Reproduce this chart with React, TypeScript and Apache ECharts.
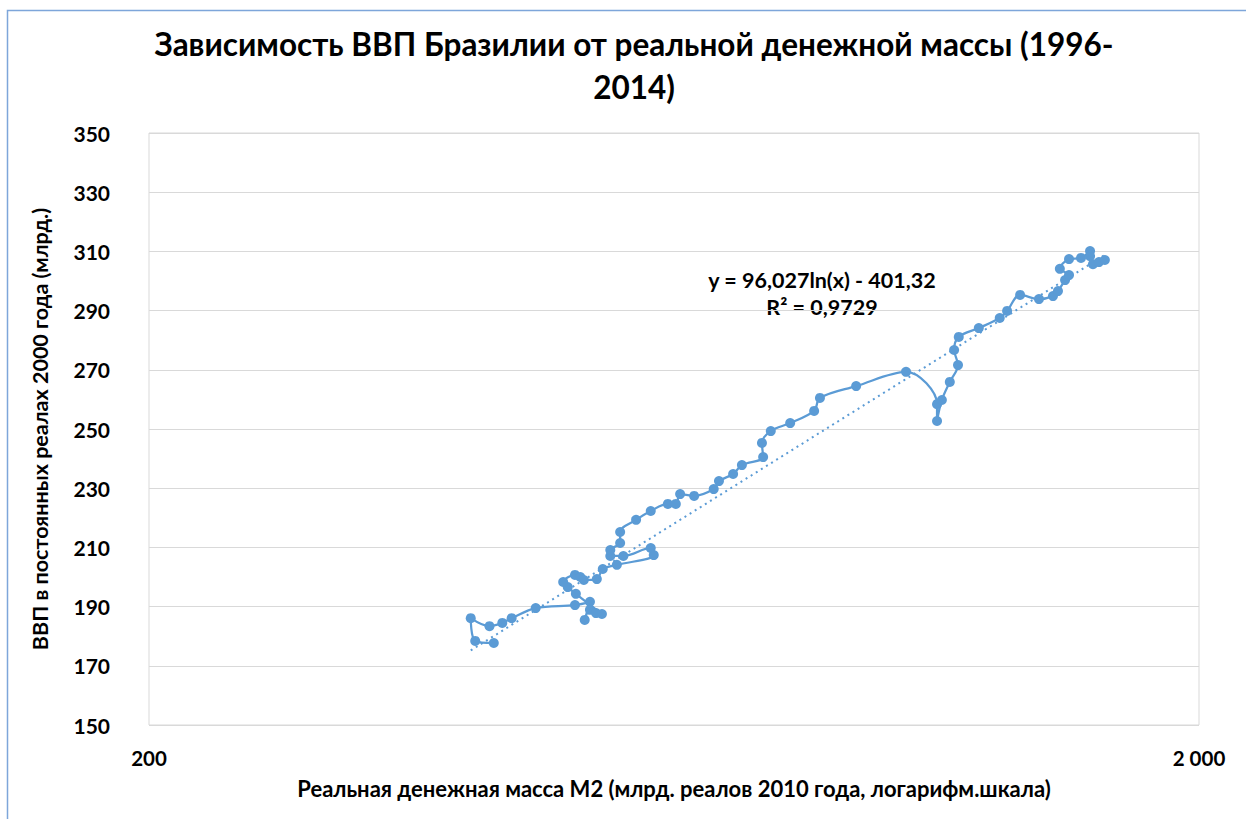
import React, { useEffect, useRef } from "react";
import * as echarts from "echarts";

// Real money supply M2 (bn 2010 reais, log scale), in chronological order
const m2Values = [
  426, 409, 405, 422, 434, 443, 467, 509, 526, 520, 526, 533, 540, 510, 501, 496, 509, 515, 519, 534,
  541, 558, 605, 601, 566, 550, 550, 562, 562, 582, 601, 624, 635, 641, 661, 690, 698, 720, 734, 769,
  767, 782, 816, 860, 871, 943, 1052, 1126, 1126, 1138, 1158, 1179, 1169, 1181, 1234, 1292, 1313, 1351, 1408, 1452,
  1468, 1491, 1504, 1474, 1504, 1544, 1575, 1575, 1585, 1606, 1627,
];
// Real GDP (bn 2000 reais)
const gdpValues = [
  177.7, 178.4, 186.1, 183.4, 184.5, 186.1, 189.5, 190.5, 191.6, 185.5, 188.9, 187.8, 187.5, 194.3, 196.6, 198.3, 200.7, 200.0, 199.0, 199.3,
  202.7, 204.1, 207.4, 209.8, 207.1, 207.1, 209.1, 211.5, 215.2, 219.3, 222.3, 224.7, 224.7, 228.0, 227.4, 229.7, 232.4, 234.8, 237.8, 240.5,
  245.3, 249.3, 252.0, 256.1, 260.5, 264.5, 269.3, 258.4, 252.7, 259.8, 265.9, 271.6, 276.7, 281.1, 284.1, 287.5, 289.9, 295.3, 293.9, 294.9,
  296.6, 300.3, 302.0, 304.1, 307.4, 307.8, 310.1, 308.4, 305.7, 306.4, 307.1,
];
// Logarithmic trend line end points
const trendX = [405, 1627];
const trendY = [175.2, 308.8];

const xTickLabels: Record<number, string> = { 200: "200", 2000: "2 000" };
const titleText = "Зависимость ВВП Бразилии от реальной денежной массы (1996-\n2014)";
const equationText = "y = 96,027ln(x) - 401,32";
const r2Text = "R² = 0,9729";

const FONT = "Lato";
const BLUE = "#5B9BD5";

export default function App() {
  const ref = useRef<HTMLDivElement>(null);
  useEffect(() => {
    document.body.style.margin = "0";
    const chart = echarts.init(ref.current!, undefined, { renderer: "svg" });
    const data = m2Values.map((x, i) => [x, gdpValues[i]]);
    const trend = trendX.map((x, i) => [x, trendY[i]]);
    chart.setOption({
      animation: false,
      backgroundColor: "#ffffff",
      textStyle: { fontFamily: FONT },
      title: {
        text: titleText,
        left: 629,
        textAlign: "center",
        top: 17,
        textStyle: { fontFamily: FONT, fontSize: 31.5, fontWeight: "bold", color: "#000", lineHeight: 43 },
      },
      graphic: [
        {
          type: "rect",
          shape: { x: 7.5, y: 10.5, width: 1260, height: 830 },
          style: { fill: "none", stroke: "#7EA6DA", lineWidth: 1.5 },
          silent: true,
          z: -1,
        },
        {
          type: "text",
          x: 822,
          y: 280,
          style: { text: equationText, fontFamily: FONT, fontSize: 21.5, fontWeight: "bold", fill: "#000", align: "center", verticalAlign: "middle" },
        },
        {
          type: "text",
          x: 822,
          y: 307,
          style: { text: r2Text, fontFamily: FONT, fontSize: 21.5, fontWeight: "bold", fill: "#000", align: "center", verticalAlign: "middle" },
        },
      ],
      grid: {
        left: 149,
        right: 47,
        top: 133,
        bottom: 94,
        show: true,
        borderColor: "#D9D9D9",
        borderWidth: 1,
      },
      xAxis: {
        type: "log",
        logBase: 10,
        min: 200,
        max: 2000,
        name: "Реальная денежная масса М2 (млрд. реалов 2010 года, логарифм.шкала)",
        nameLocation: "middle",
        nameGap: 52,
        nameTextStyle: { fontFamily: FONT, fontSize: 22, fontWeight: "bold", color: "#000" },
        axisLine: { show: false },
        axisTick: { show: false },
        splitLine: { show: false },
        axisLabel: {
          margin: 22,
          fontFamily: FONT,
          fontSize: 20.5,
          fontWeight: "bold",
          color: "#000",
          showMinLabel: true,
          showMaxLabel: true,
          formatter: (v: number) => xTickLabels[Math.round(v)] ?? "",
        },
      },
      yAxis: {
        type: "value",
        min: 150,
        max: 350,
        interval: 20,
        name: "ВВП в постоянных реалах 2000 года (млрд.)",
        nameLocation: "middle",
        nameGap: 98,
        nameTextStyle: { fontFamily: FONT, fontSize: 21.5, fontWeight: "bold", color: "#000" },
        axisLine: { show: false },
        axisTick: { show: false },
        splitLine: { lineStyle: { color: "#D9D9D9", width: 1 } },
        axisLabel: { margin: 39, fontFamily: FONT, fontSize: 21, fontWeight: "bold", color: "#000" },
      },
      series: [
        {
          type: "line",
          data,
          smooth: 0.35,
          symbol: "circle",
          symbolSize: 10,
          lineStyle: { color: BLUE, width: 2.25 },
          itemStyle: { color: BLUE },
          z: 3,
        },
        {
          type: "line",
          data: trend,
          symbol: "none",
          lineStyle: { color: BLUE, width: 2, type: [2, 4] },
          z: 2,
        },
      ],
    });
    return () => chart.dispose();
  }, []);
  return <div ref={ref} style={{ width: 1246, height: 819 }} />;
}
